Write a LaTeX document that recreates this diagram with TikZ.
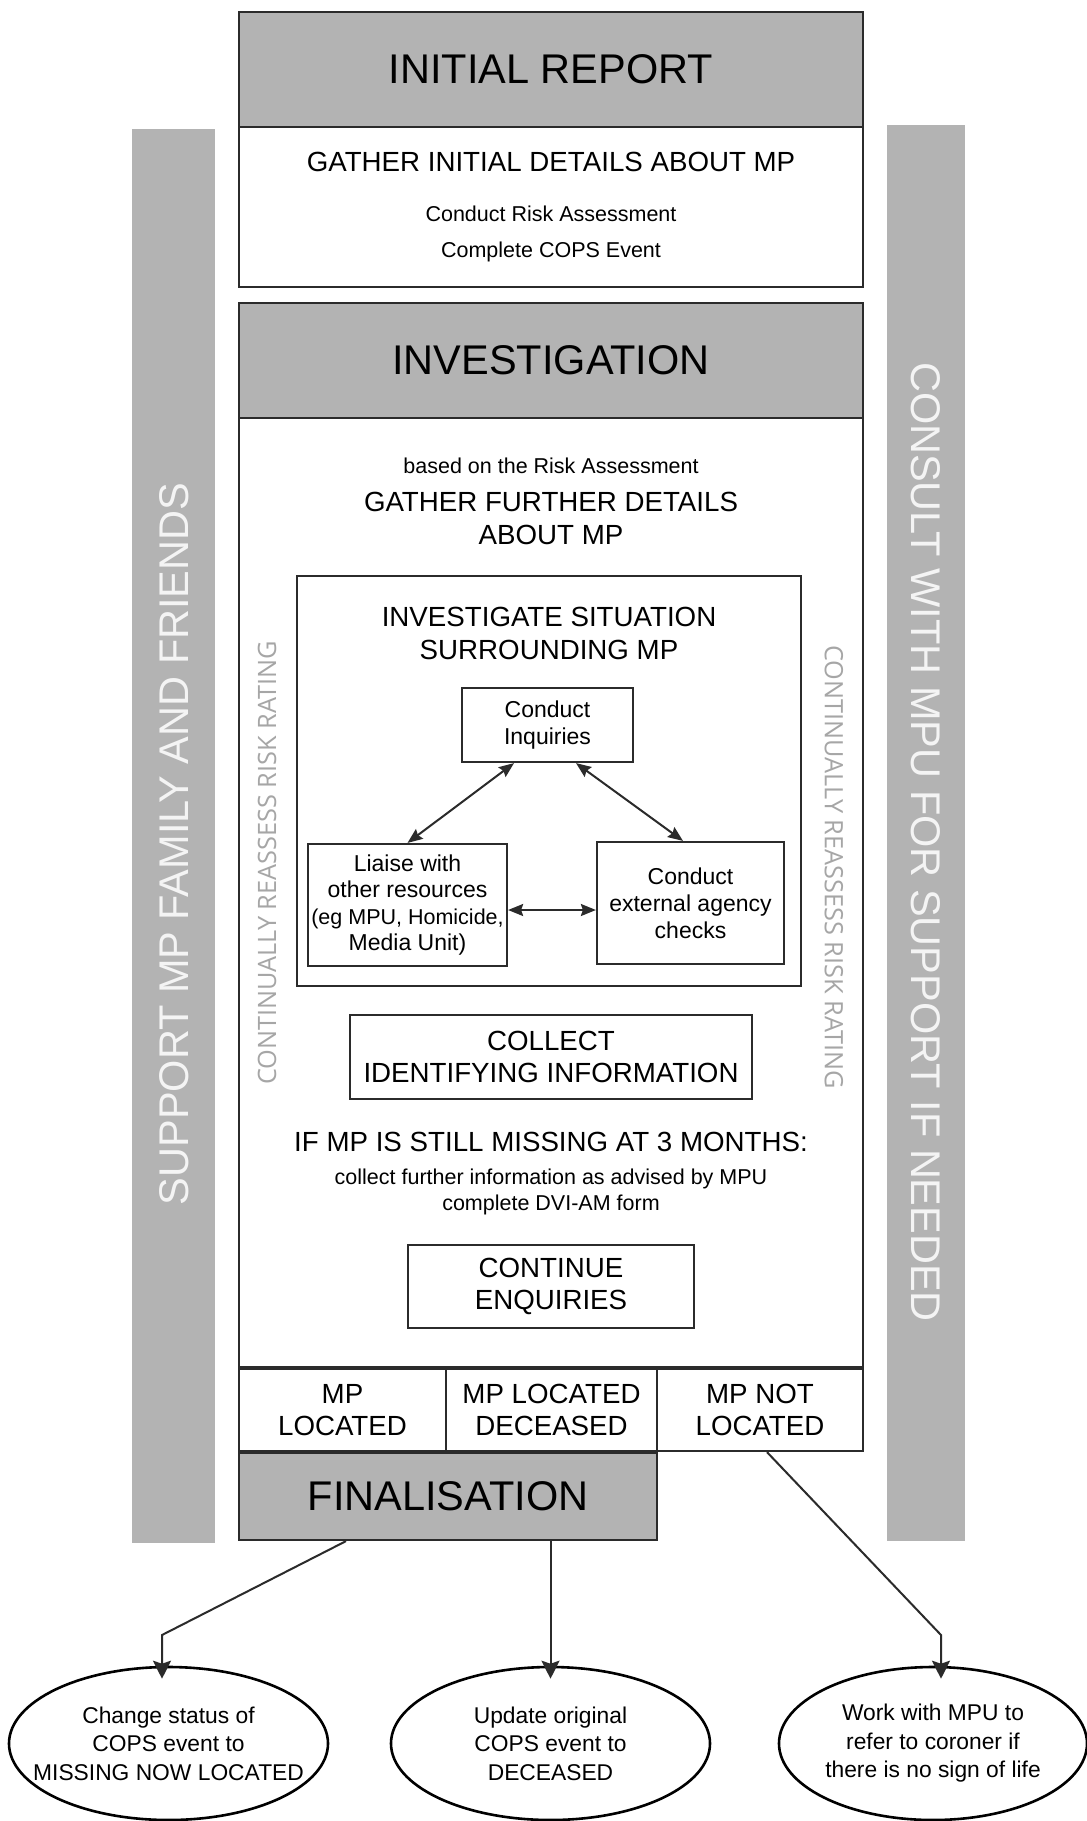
\documentclass[tikz,border=0pt]{standalone}
\usepackage{fontspec}
\setmainfont{Liberation Sans}
\newfontfamily\lightfont{Open Sans}
\usetikzlibrary{arrows.meta,shapes.geometric,calc}
\definecolor{hdrgray}{HTML}{B3B3B3}
\definecolor{edgecol}{HTML}{2B2B2B}
\definecolor{reassess}{HTML}{A6A6A6}
\definecolor{bartext}{HTML}{F4F4F4}
\newcommand\mysize[2]{\fontsize{#1}{#2}\selectfont}
\begin{document}
\begin{tikzpicture}[x=1pt,y=-1pt,
  frame/.style={draw=edgecol,line width=2.2pt,inner sep=0pt,fill=white},
  hdr/.style={frame,fill=hdrgray,font=\mysize{41.5}{49}},
  box/.style={frame,align=center,font=\mysize{27.7}{32.5}},
  smallbox/.style={frame,align=center,font=\mysize{23}{26.5}},
  bar/.style={fill=hdrgray,inner sep=0pt},
  bartxt/.style={text=bartext,font=\mysize{41.5}{49},inner sep=0pt},
  reass/.style={text=reassess,font=\lightfont\mysize{25.3}{30},inner sep=0pt},
  capt/.style={align=center,inner sep=0pt,font=\mysize{27.7}{32.5}},
  small/.style={align=center,inner sep=0pt,font=\mysize{21.5}{26}},
  oval/.style={ellipse,draw=black,line width=2.6pt,inner sep=0pt},
  ovaltxt/.style={align=center,inner sep=0pt,font=\mysize{22.8}{28.5}},
  biarrow/.style={draw=edgecol,line width=2pt,{Stealth[length=15pt,width=12pt,inset=2pt]}-{Stealth[length=15pt,width=12pt,inset=2pt]}},
  arr/.style={draw=edgecol,line width=2pt,-{Stealth[length=18pt,width=18pt,inset=3pt]},shorten >=-13pt}
]
\useasboundingbox (0,0) rectangle (1087,1821);
\fill[white] (0,0) rectangle (1087,1821);

% side bars
\node[bar,minimum width=83,minimum height=1414] (lbar) at (173.5,836) {};
\node[bar,minimum width=78,minimum height=1416] (rbar) at (926,833) {};
\node[bartxt,rotate=90] (ltxt) at (174,844) {SUPPORT MP FAMILY AND FRIENDS};
\node[bartxt,rotate=-90] (rtxt) at (926,842) {CONSULT WITH MPU FOR SUPPORT IF NEEDED};

% initial report
\node[hdr,minimum width=624,minimum height=115] (irhead) at (551,69.5) {INITIAL REPORT};
\node[frame,minimum width=624,minimum height=160] (irbody) at (551,207) {};
\node[capt] (gather1) at (551,162) {GATHER INITIAL DETAILS ABOUT MP};
\node[small] (risk) at (551,214) {Conduct Risk Assessment};
\node[small] (cops) at (551,252) {Complete COPS Event};

% investigation
\node[hdr,minimum width=624,minimum height=115] (invhead) at (551,360.5) {INVESTIGATION};
\node[frame,minimum width=624,minimum height=949] (invbody) at (551,892.5) {};
\node[small] (based) at (551,466) {based on the Risk Assessment};
\node[capt] (gather2) at (551,518.5) {GATHER FURTHER DETAILS\\ABOUT MP};

\node[frame,minimum width=504,minimum height=410] (sitbox) at (549,781) {};
\node[capt] (sittxt) at (549,633.5) {INVESTIGATE SITUATION\\SURROUNDING MP};
\node[smallbox,minimum width=171,minimum height=74] (inq) at (547.5,725) {Conduct\\Inquiries};
\node[smallbox,minimum width=199,minimum height=122] (liaise) at (407.5,905) {Liaise with\\other resources\\{\mysize{21.5}{26.5}(eg MPU, Homicide,}\\Media Unit)};
\node[smallbox,minimum width=187,minimum height=122,font=\mysize{23}{27}] (ext) at (690.5,903) {Conduct\\external agency\\checks};

\draw[biarrow] ([shift={(-33.5,0)}]inq.south) -- (liaise.north);
\draw[biarrow] ([shift={(28.5,0)}]inq.south) -- ([shift={(-7.5,0)}]ext.north);
\draw[biarrow] ([shift={(0,5)}]liaise.east) -- ([shift={(0,7)}]ext.west);

\node[reass,rotate=90] (reassL) at (267,863) {CONTINUALLY REASSESS RISK RATING};
\node[reass,rotate=-90] (reassR) at (834,867) {CONTINUALLY REASSESS RISK RATING};

\node[box,minimum width=402,minimum height=84] (collect) at (551,1057) {COLLECT\\IDENTIFYING INFORMATION};
\node[capt] (if3m) at (551,1142) {IF MP IS STILL MISSING AT 3 MONTHS:};
\node[small] (further) at (551,1192) {collect further information as advised by MPU\\complete DVI-AM form};
\node[box,minimum width=286,minimum height=83] (cont) at (551,1286.5) {CONTINUE\\ENQUIRIES};

% outcomes
\node[box,minimum width=207,minimum height=82] (c1) at (342.5,1410) {MP\\LOCATED};
\node[box,minimum width=211,minimum height=82] (c2) at (551.5,1410) {MP LOCATED\\DECEASED};
\node[box,minimum width=206,minimum height=82] (c3) at (760,1410) {MP NOT\\LOCATED};
\node[hdr,minimum width=418,minimum height=87] (fin) at (448,1496.5) {FINALISATION};

% ellipses
\node[oval,minimum width=319,minimum height=153] (e1) at (168.5,1743.5) {};
\node[oval,minimum width=319,minimum height=153] (e2) at (550.5,1743.5) {};
\node[oval,minimum width=308,minimum height=153] (e3) at (933,1743.5) {};
\node[ovaltxt] (e1t) at (e1.center) {Change status of\\COPS event to\\MISSING NOW LOCATED};
\node[ovaltxt] (e2t) at (e2.center) {Update original\\COPS event to\\DECEASED};
\node[ovaltxt] (e3t) at (e3.center) {Work with MPU to\\refer to coroner if\\there is no sign of life};

\coordinate (b1) at (162,1635);
\coordinate (b3) at (941,1635);
\draw[arr] ([shift={(-102,0)}]fin.south) -- (b1) -- (b1 |- e1.north);
\draw[arr] (fin.south -| e2.north) -- (e2.north);
\draw[arr] ([shift={(7,0)}]c3.south) -- (b3) -- (b3 |- e3.north);
\end{tikzpicture}
\end{document}
